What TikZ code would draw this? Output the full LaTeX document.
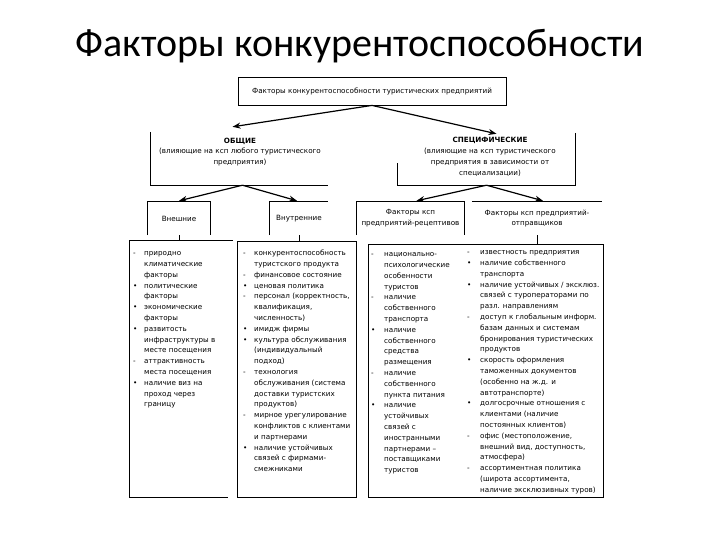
\documentclass[tikz,border=0pt]{standalone}
\usepackage{fontspec}
\setmainfont{DejaVu Sans}
\newfontfamily\ttlfont{Carlito}
\usetikzlibrary{arrows.meta}

\begin{document}
\begin{tikzpicture}[
        x=1pt,
        y=-1pt,
        every node/.style={font=\fontsize{7.2}{10.8}\selectfont, inner sep=0pt},
        box/.style={
            rectangle,
            inner sep=0pt
        },
        frame/.style={
            draw,
            line width=0.8pt
        },
        link/.style={line width=0.8pt},
        arr/.style={line width=1.2pt, -{Stealth[length=8pt,width=6pt]}},
        lst/.style={anchor=north west, align=left}
    ]
    \useasboundingbox (0,0) rectangle (720,540);

    % Title
    \node[font=\ttlfont\fontsize{40}{48}\selectfont] (title) at (360,46) {Факторы конкурентоспособности};

    % Top level
    \node[box, frame, minimum width=268pt, minimum height=28pt] (top) at (372,91)
        {Факторы конкурентоспособности туристических предприятий};

    % General / specific
    \node[box, minimum width=177pt, minimum height=53pt] (obsh) at (239.5,158.5) {};
    \node[align=center] (obshtxt) at (240,152)
        {\textbf{ОБЩИЕ}\\(влияющие на ксп любого туристического\\предприятия)};
    \draw[link] (obsh.north west) -- (obsh.south west) -- (obsh.south east);

    \node[box, minimum width=177pt, minimum height=52pt] (spec) at (486.5,159) {};
    \node[align=center] (spectxt) at (490,157)
        {\textbf{СПЕЦИФИЧЕСКИЕ}\\(влияющие на ксп туристического\\предприятия в зависимости от\\специализации)};
    \draw[link] (spec.north east) -- (spec.south east) -- (spec.south west) -- ++(0,-22);

    \draw[arr] (top.south) -- ([xshift=-7pt,yshift=5pt]obsh.north);
    \draw[arr] (top.south) -- ([xshift=10pt,yshift=-1pt]spec.north);

    % Headers
    \node[box, minimum width=62pt, minimum height=33pt] (vnesh) at (179,218.5) {Внешние};
    \draw[link] (vnesh.south west) -- (vnesh.north west) -- (vnesh.north east) -- (vnesh.south east);

    \node[box, minimum width=58pt, minimum height=33pt] (vnutr) at (299,218.5) {Внутренние};
    \draw[link] (vnutr.south west) -- (vnutr.north west) -- (vnutr.north east);

    \node[box, align=center, minimum width=107pt, minimum height=33pt] (recep) at (410.5,218.5)
        {Факторы ксп\\предприятий-рецептивов};
    \draw[link] (recep.south west) -- (recep.north west) -- (recep.north east) -- (recep.south east);

    \node[box, align=center, minimum width=130pt, minimum height=33pt] (otpr) at (537,218.5)
        {Факторы ксп предприятий-\\отправщиков};
    \draw[link] (otpr.north west) -- (otpr.north east);

    \draw[arr] ([xshift=3pt]obsh.south) -- ([yshift=1pt]vnesh.north);
    \draw[arr] ([xshift=3pt]obsh.south) -- ([xshift=-2pt,yshift=1pt]vnutr.north);
    \draw[arr] (spec.south) -- ([xshift=6pt,yshift=1pt]recep.north);
    \draw[arr] (spec.south) -- ([xshift=6pt,yshift=1pt]otpr.north);

    % Lists
    \node[box, minimum width=103pt, minimum height=256pt] (lstA) at (181.5,369) {};
    \draw[link] (lstA.north east) -- (lstA.north west) -- (lstA.south west) -- ([xshift=-5pt]lstA.south east);
    \node[box, frame, minimum width=119pt, minimum height=256pt] (lstB) at (296.5,369) {};
    \node[box, frame, minimum width=235pt, minimum height=253pt] (lstC) at (485.5,370.5) {};

    \draw[link] (vnesh.south) -- (vnesh.south |- lstA.north);
    \draw[link] (vnutr.south) -- (vnutr.south |- lstB.north);
    \draw[link] (otpr.south) -- (otpr.south |- lstC.north);

    \node[lst] (txtA) at (133,248) {\begin{tabular}{@{}p{11pt}@{}l@{}}
        - & природно\\
          & климатические\\
          & факторы\\
        • & политические\\
          & факторы\\
        • & экономические\\
          & факторы\\
        • & развитость\\
          & инфраструктуры в\\
          & месте посещения\\
        - & аттрактивность\\
          & места посещения\\
        • & наличие виз на\\
          & проход через\\
          & границу\\
    \end{tabular}};

    \node[lst] (txtB) at (243,248) {\begin{tabular}{@{}p{11pt}@{}l@{}}
        - & конкурентоспособность\\
          & туристского продукта\\
        - & финансовое состояние\\
        • & ценовая политика\\
        - & персонал (корректность,\\
          & квалификация,\\
          & численность)\\
        • & имидж фирмы\\
        • & культура обслуживания\\
          & (индивидуальный\\
          & подход)\\
        - & технология\\
          & обслуживания (система\\
          & доставки туристских\\
          & продуктов)\\
        - & мирное урегулирование\\
          & конфликтов с клиентами\\
          & и партнерами\\
        • & наличие устойчивых\\
          & связей с фирмами-\\
          & смежниками\\
    \end{tabular}};

    \node[lst] (txtC) at (371,249) {\begin{tabular}{@{}p{13pt}@{}l@{}}
        - & национально-\\
          & психологические\\
          & особенности\\
          & туристов\\
        - & наличие\\
          & собственного\\
          & транспорта\\
        • & наличие\\
          & собственного\\
          & средства\\
          & размещения\\
        - & наличие\\
          & собственного\\
          & пункта питания\\
        • & наличие\\
          & устойчивых\\
          & связей с\\
          & иностранными\\
          & партнерами –\\
          & поставщиками\\
          & туристов\\
    \end{tabular}};

    \node[lst] (txtD) at (467,247) {\begin{tabular}{@{}p{13pt}@{}l@{}}
        - & известность предприятия\\
        • & наличие собственного\\
          & транспорта\\
        • & наличие устойчивых / эксклюз.\\
          & связей с туроператорами по\\
          & разл. направлениям\\
        - & доступ к глобальным информ.\\
          & базам данных и системам\\
          & бронирования туристических\\
          & продуктов\\
        • & скорость оформления\\
          & таможенных документов\\
          & (особенно на ж.д. и\\
          & автотранспорте)\\
        • & долгосрочные отношения с\\
          & клиентами (наличие\\
          & постоянных клиентов)\\
        - & офис (местоположение,\\
          & внешний вид, доступность,\\
          & атмосфера)\\
        - & ассортиментная политика\\
          & (широта ассортимента,\\
          & наличие эксклюзивных туров)\\
    \end{tabular}};

\end{tikzpicture}
\end{document}
